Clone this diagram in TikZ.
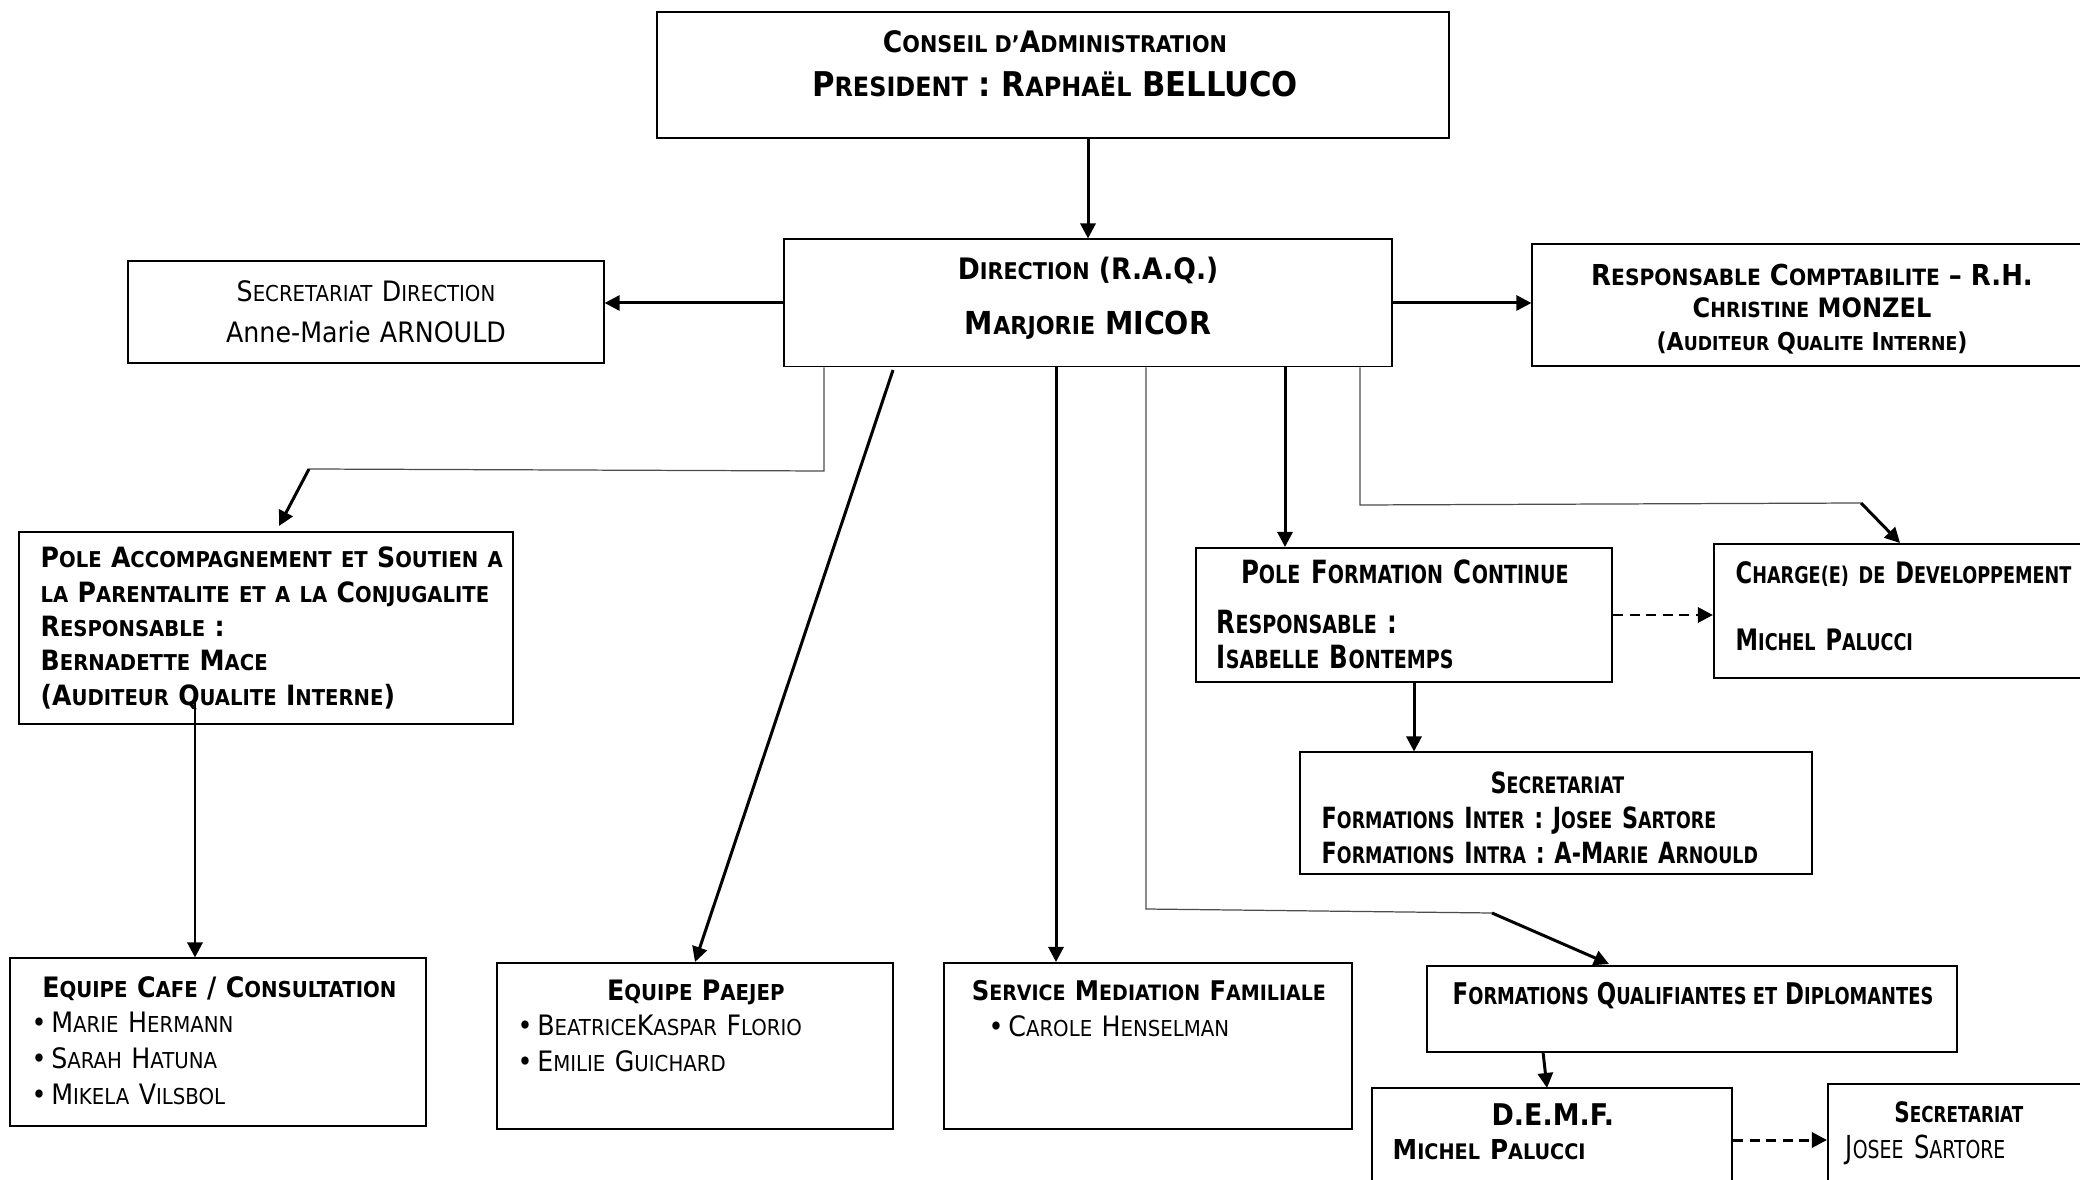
\documentclass[tikz,border=0pt]{standalone}
\usepackage{fontspec}
\setmainfont{DejaVu Sans Condensed}[BoldFont={DejaVu Sans Condensed Bold}]
\newfontfamily\narrowfont{DejaVu Sans Condensed}[BoldFont={DejaVu Sans Condensed Bold},FakeStretch=0.85]
\usetikzlibrary{arrows.meta,positioning}
\makeatletter
\newcommand\sm[1]{{\fontsize{\fpeval{0.78*\f@size}}{\f@baselineskip}\selectfont #1}}
\makeatother
\begin{document}
\begin{tikzpicture}[x=0.01cm,y=-0.01cm,
    box/.style={draw,line width=0.55pt,inner sep=0pt},
    txt/.style={inner sep=0pt,font=\bfseries},
    arr/.style={line width=0.85pt,-{Triangle[length=0.15cm,width=0.15cm]}},
    dasharr/.style={arr,dash pattern=on 2.9pt off 1.8pt},
    faint/.style={line width=0.35pt,draw=black!70}]
    \useasboundingbox (0,0) rectangle (2080,1180);

    % the boxes
    \node[box,minimum width=7.92cm,minimum height=1.26cm] (conseil) at (1053,75) {};
    \node[box,minimum width=6.08cm,minimum height=1.27cm] (direction) at (1088,303) {};
    \node[box,minimum width=4.75cm,minimum height=1.02cm] (secdir) at (366,312) {};
    \node[box,minimum width=5.57cm,minimum height=1.22cm] (rh) at (1811,305) {};
    \node[box,minimum width=4.94cm,minimum height=1.92cm] (pasp) at (266,628) {};
    \node[box,minimum width=4.16cm,minimum height=1.34cm] (pfc) at (1404,615) {};
    \node[box,minimum width=3.76cm,minimum height=1.33cm] (cdd) at (1902,611) {};
    \node[box,minimum width=5.11cm,minimum height=1.21cm] (secf) at (1556,813) {};
    \node[box,minimum width=4.15cm,minimum height=1.67cm] (cafe) at (218,1042) {};
    \node[box,minimum width=3.96cm,minimum height=1.66cm] (paejep) at (695,1046) {};
    \node[box,minimum width=4.08cm,minimum height=1.66cm] (mediation) at (1148,1046) {};
    \node[box,minimum width=5.30cm,minimum height=0.86cm] (fqd) at (1692,1009) {};
    \node[box,minimum width=3.60cm,minimum height=1.04cm] (demf) at (1552,1140) {};
    \node[box,minimum width=2.62cm,minimum height=1.08cm] (secdemf) at (1959,1138) {};

    % the texts
    \node[txt,anchor=base,font=\bfseries\fontsize{8.4}{10}\selectfont] (conseil-a) at (1055,53)
    {C\sm{ONSEIL D’}A\sm{DMINISTRATION}};
    \node[txt,anchor=base,font=\bfseries\fontsize{9.7}{12}\selectfont] (conseil-b) at (1055,97)
    {P\sm{RESIDENT} : R\sm{APHAËL} BELLUCO};
    \node[txt,anchor=base,font=\bfseries\fontsize{8.4}{10}\selectfont] (direction-a) at (1088,280)
    {D\sm{IRECTION} (R.A.Q.)};
    \node[txt,anchor=base,font=\bfseries\fontsize{9}{11}\selectfont] (direction-b) at (1088,335)
    {M\sm{ARJORIE} MICOR};
    \node[txt,anchor=base,text width=4.5cm,align=center,font=\fontsize{8}{11.4}\selectfont] (secdir-t) at (366,302)
    {S\sm{ECRETARIAT} D\sm{IRECTION}\\ Anne-Marie ARNOULD};
    \node[txt,anchor=base,font=\bfseries\fontsize{8.2}{9.5}\selectfont] (rh-a) at (1812,286)
    {R\sm{ESPONSABLE} C\sm{OMPTABILITE} – R.H.};
    \node[txt,anchor=base,font=\bfseries\fontsize{7.6}{9}\selectfont] (rh-b) at (1812,318)
    {C\sm{HRISTINE} MONZEL};
    \node[txt,anchor=base,font=\bfseries\fontsize{7}{9}\selectfont] (rh-c) at (1812,351)
    {(A\sm{UDITEUR} Q\sm{UALITE} I\sm{NTERNE})};
    \node[txt,anchor=base west,text width=5cm,align=left,font=\bfseries\fontsize{7.95}{9.75}\selectfont] (pasp-t) at (40,568)
    {P\sm{OLE} A\sm{CCOMPAGNEMENT ET} S\sm{OUTIEN A}\\ \sm{LA} P\sm{ARENTALITE ET A LA} C\sm{ONJUGALITE}\\
     R\sm{ESPONSABLE} :\\ B\sm{ERNADETTE} M\sm{ACE}\\ (A\sm{UDITEUR} Q\sm{UALITE} I\sm{NTERNE})};
    \node[txt,anchor=base west,text width=3.76cm,align=left,font=\narrowfont\bfseries\fontsize{9.1}{10}\selectfont] (pfc-t) at (1216,584)
    {\makebox[\linewidth]{P\sm{OLE} F\sm{ORMATION} C\sm{ONTINUE}}\\[4pt] R\sm{ESPONSABLE} :\\ I\sm{SABELLE} B\sm{ONTEMPS}};
    \node[txt,anchor=base west,text width=3.4cm,align=left,font=\narrowfont\bfseries\fontsize{8.4}{10}\selectfont] (cdd-t) at (1735,584)
    {C\sm{HARGE(E) DE} D\sm{EVELOPPEMENT}\\[9pt] M\sm{ICHEL} P\sm{ALUCCI}};
    \node[txt,anchor=base west,text width=4.71cm,align=left,font=\narrowfont\bfseries\fontsize{8.3}{10}\selectfont] (secf-t) at (1321,793)
    {\makebox[\linewidth]{S\sm{ECRETARIAT}}\\ F\sm{ORMATIONS} I\sm{NTER} : J\sm{OSEE} S\sm{ARTORE}\\
     F\sm{ORMATIONS} I\sm{NTRA} : A-M\sm{ARIE} A\sm{RNOULD}};
    \node[txt,anchor=base west,text width=3.75cm,align=left,font=\fontsize{8}{10.2}\selectfont] (cafe-t) at (31,997)
    {\makebox[\linewidth]{\bfseries E\sm{QUIPE} C\sm{AFE} / C\sm{ONSULTATION}}\\ \textbullet\,M\sm{ARIE} H\sm{ERMANN}\\
     \textbullet\,S\sm{ARAH} H\sm{ATUNA}\\ \textbullet\,M\sm{IKELA} V\sm{ILSBOL}};
    \node[txt,anchor=base west,text width=3.56cm,align=left,font=\fontsize{8}{10.2}\selectfont] (paejep-t) at (517,1000)
    {\makebox[\linewidth]{\bfseries E\sm{QUIPE} P\sm{AEJEP}}\\ \textbullet\,B\sm{EATRICE}K\sm{ASPAR} F\sm{LORIO}\\
     \textbullet\,E\sm{MILIE} G\sm{UICHARD}};
    \node[txt,anchor=base west,text width=3.2cm,align=left,font=\fontsize{8}{10.5}\selectfont] (mediation-t) at (988,1000)
    {\makebox[\linewidth]{\bfseries\fontsize{7.7}{10}\selectfont S\sm{ERVICE} M\sm{EDIATION} F\sm{AMILIALE}}\\ \textbullet\,C\sm{AROLE} H\sm{ENSELMAN}};
    \node[txt,anchor=base,font=\narrowfont\bfseries\fontsize{8.5}{10}\selectfont] (fqd-t) at (1693,1004)
    {F\sm{ORMATIONS} Q\sm{UALIFIANTES ET} D\sm{IPLOMANTES}};
    \node[txt,anchor=base west,text width=3.2cm,align=left,font=\bfseries\fontsize{8.5}{9.8}\selectfont] (demf-t) at (1392,1125)
    {\makebox[\linewidth]{D.E.M.F.}\\ \fontsize{7.8}{9.8}\selectfont M\sm{ICHEL} P\sm{ALUCCI}};
    \node[txt,anchor=base west,text width=2.26cm,align=left,font=\narrowfont\fontsize{9}{10.3}\selectfont] (secdemf-t) at (1845,1122)
    {\makebox[\linewidth]{\bfseries\fontsize{8}{10.3}\selectfont S\sm{ECRETARIAT}}\\ J\sm{OSEE} S\sm{ARTORE}};

    % the bends
    \coordinate (pasp-k1) at (824,471);
    \coordinate (pasp-k2) at (309,469);
    \coordinate (pasp-tip) at (279,526);
    \coordinate (paejep-k) at (893,370);
    \coordinate (med-x) at (1056,0);
    \coordinate (fqd-k1) at (1146,909);
    \coordinate (fqd-k2) at (1492,913);
    \coordinate (fqd-tip) at (1609,964);
    \coordinate (pfc-x) at (1285,0);
    \coordinate (cdd-k1) at (1360,505);
    \coordinate (cdd-k2) at (1861,503);
    \coordinate (cdd-tip) at (1900,543);
    \coordinate (secf-x) at (1414,0);
    \coordinate (cafe-k) at (195,700);
    \coordinate (demf-k1) at (1543,1052);
    \coordinate (demf-k2) at (1547,1088);

    \draw[arr] (direction.north |- conseil.south) -- (direction.north);
    \draw[arr] (direction.west) -- (secdir.east |- direction.west);
    \draw[arr] (direction.east) -- (rh.west |- direction.east);
    \draw[faint] (direction.south -| pasp-k1) -- (pasp-k1) -- (pasp-k2);
    \draw[arr] (pasp-k2) -- (pasp-tip);
    \draw[arr] (paejep-k) -- (paejep.north);
    \draw[arr] (direction.south -| med-x) -- (mediation.north -| med-x);
    \draw[faint] (direction.south -| fqd-k1) -- (fqd-k1) -- (fqd-k2);
    \draw[arr] (fqd-k2) -- (fqd-tip);
    \draw[arr] (direction.south -| pfc-x) -- (pfc.north -| pfc-x);
    \draw[faint] (direction.south -| cdd-k1) -- (cdd-k1) -- (cdd-k2);
    \draw[arr] (cdd-k2) -- (cdd-tip);
    \draw[dasharr] (pfc.east) -- (cdd.west |- pfc.east);
    \draw[arr] (pfc.south -| secf-x) -- (secf.north -| secf-x);
    \draw[arr] (cafe-k) -- (cafe.north -| cafe-k);
    \draw[arr] (demf-k1) -- (demf-k2);
    \draw[dasharr] (demf.east) -- (secdemf.west |- demf.east);
\end{tikzpicture}
\end{document}
